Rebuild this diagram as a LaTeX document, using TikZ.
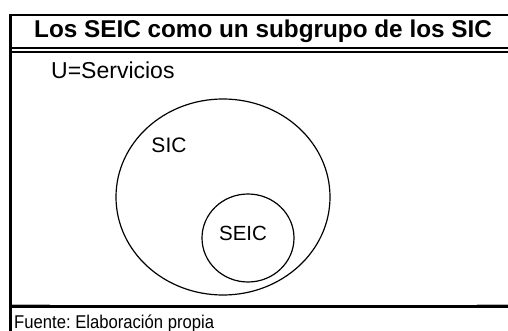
\documentclass[tikz,border=0pt]{standalone}
\usepackage{fontspec}
\setmainfont{Liberation Sans}
\frenchspacing

\begin{document}
\begin{tikzpicture}[x=1pt, y=-1pt]
        \tikzstyle{every node}=[inner sep=0pt, anchor=base]
        \tikzstyle{set}=[line width=1.2pt]
        \useasboundingbox (0,0) rectangle (508,331);
        % frame
        \draw[line width=2pt] (9.5,15) -- (508,15);
        \draw[line width=2.5pt] (9.5,48) -- (508,48);
        \draw[line width=2pt] (9.5,52) -- (508,52);
        \draw[line width=3pt] (9.5,306.5) -- (508,306.5);
        \draw[gray!60, line width=0.8pt] (12,304.5) -- (50,304.5) (477,304.5) -- (508,304.5);
        \draw[line width=2.5pt] (10.5,14) -- (10.5,331);
        % sets
        \draw[set] (223,197) ellipse [x radius=107, y radius=98];
        \draw[set] (248,238) ellipse [x radius=46, y radius=44];
        \node (title) at (263,38) {\fontsize{24.3}{28}\selectfont\bfseries Los SEIC como un subgrupo de los SIC};
        \node[anchor=base west] (universe) at (51,79) {\fontsize{23}{26}\selectfont U=Servicios};
        \node (sic) at (169,153) {\fontsize{21}{24}\selectfont SIC};
        \node (seic) at (243,240) {\fontsize{20.5}{24}\selectfont SEIC};
        \node[anchor=base west] (source) at (14,328) {\scalebox{0.9}[1]{\fontsize{18.5}{21}\selectfont Fuente: Elaboración propia}};
\end{tikzpicture}
\end{document}
